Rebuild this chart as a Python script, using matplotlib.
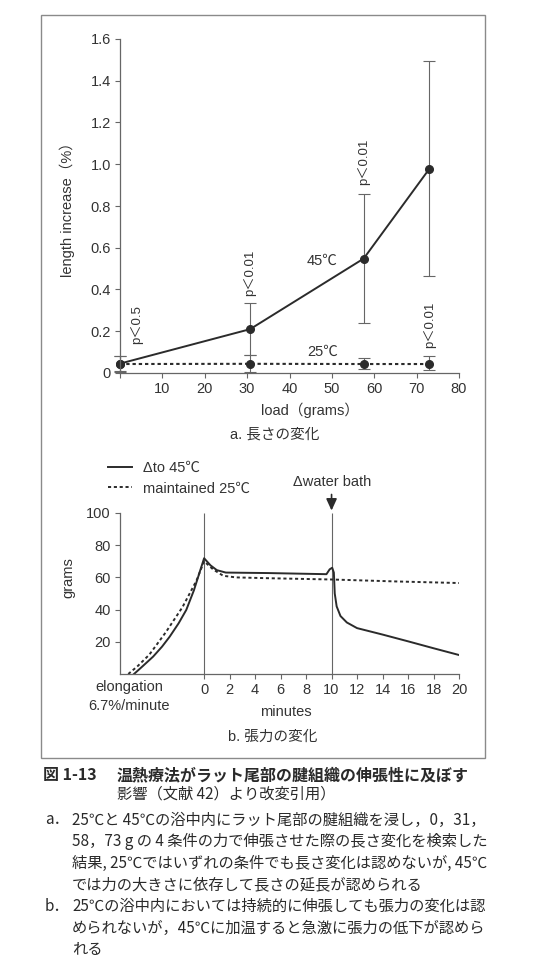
import matplotlib
matplotlib.use('Agg')
import matplotlib.pyplot as plt
from matplotlib.patches import Rectangle

plt.rcParams['font.family'] = ['Liberation Sans', 'Noto Sans CJK JP']

# --- data, panel a: length increase vs load ---
load = [0, 30.7, 57.5, 73.0]
len_45 = [0.045, 0.21, 0.548, 0.978]
err_45 = [0.037, 0.123, 0.31, 0.515]
len_25 = [0.043, 0.044, 0.043, 0.043]
err_25_lo = [0.04, 0.038, 0.024, 0.029]
err_25_hi = [0.038, 0.04, 0.03, 0.038]
p_labels = ['p＜0.5', 'p＜0.01', 'p＜0.01', 'p＜0.01']
p_x = [4.0, 30.7, 57.5, 73.0]
p_y = [0.14, 0.37, 0.90, 0.118]

# --- data, panel b: tension vs time ---
t_45 = [-5.5, -4.8, -4.0, -3.3, -2.7, -2.0, -1.4, -0.8, -0.3, 0, 0.5, 1.0, 1.7,
        5.0, 9.6, 9.85, 10.05, 10.18, 10.25, 10.4, 10.7, 11.2, 12.0, 14.0,
        16.0, 18.0, 20.0]
g_45 = [0, 5, 10.8, 17, 23.2, 31.5, 39.8, 52, 64.5, 71.9, 67.5, 64.5, 63,
        62.7, 62, 65, 66, 63, 50, 42, 36, 32, 28.5, 24.5,
        20.3, 16, 11.8]
t_25 = [-5.95, -5.2, -4.3, -3.0, -1.7, -0.6, 0, 0.7, 1.5, 2.5, 5.0, 10.0, 15.0, 20.0]
g_25 = [0, 5, 12, 26, 41.5, 58, 70, 65, 61, 60, 59.5, 58.7, 57.5, 56.5]

W, H = 548, 963
dark = '#2b2b2b'
grey = '#666666'
txt = '#333333'


def fx(x):
    return x / W


def fy(y):
    return 1 - y / H


fig = plt.figure(figsize=(W / 100, H / 100), dpi=100)
fig.patches.append(Rectangle((fx(41), fy(758)), fx(485) - fx(41), fy(15) - fy(758),
                             transform=fig.transFigure, fill=False,
                             edgecolor='#8a8a8a', lw=1.0))

# ---------------- panel a ----------------
ax1 = fig.add_axes([fx(120), fy(373), (459 - 120) / W, (373 - 39) / H])
ax1.set_xlim(0, 80)
ax1.set_ylim(0, 1.6)

e25 = ax1.errorbar(load, len_25, yerr=[err_25_lo, err_25_hi], fmt='o',
                   linestyle=(0, (1.6, 1.4)), color=dark, ms=5.5, lw=1.5,
                   elinewidth=0.8, capsize=4.5, capthick=0.8, ecolor=grey)
e45 = ax1.errorbar(load, len_45, yerr=err_45, fmt='-o', color=dark, ms=5.5,
                   lw=1.4, elinewidth=0.8, capsize=4.5, capthick=0.8, ecolor=grey)
for cont in (e25, e45):
    cont.lines[0].set_clip_on(False)
    for c in cont.lines[1]:
        c.set_clip_on(False)
    for c in cont.lines[2]:
        c.set_clip_on(False)

for lab, x, y in zip(p_labels, p_x, p_y):
    ax1.text(x, y, lab, rotation=90, ha='center', va='bottom', fontsize=9.5,
             color=txt)
ax1.text(47.8, 0.538, '45℃', ha='center', va='center', fontsize=10.5, color=txt)
ax1.text(47.8, 0.102, '25℃', ha='center', va='center', fontsize=10.5, color=txt)

ax1.set_xticks(range(0, 90, 10))
ax1.set_xticklabels([''] + [str(v) for v in range(10, 90, 10)])
ax1.set_yticks([0, 0.2, 0.4, 0.6, 0.8, 1.0, 1.2, 1.4, 1.6])
ax1.set_yticklabels(['0', '0.2', '0.4', '0.6', '0.8', '1.0', '1.2', '1.4', '1.6'])
ax1.set_ylabel('length increase（%）', fontsize=10.5, color=txt)
ax1.yaxis.set_label_coords(-0.132, 0.5)
ax1.set_xlabel('load（grams）', fontsize=10.5, color=txt)
ax1.xaxis.set_label_coords(0.56, -0.088)

# ---------------- panel b ----------------
ax2 = fig.add_axes([fx(120), fy(674), (459 - 120) / W, (674 - 513) / H])
ax2.set_xlim(-6.6, 20)
ax2.set_ylim(0, 100)
ax2.vlines([0, 10], 0, 100, color=grey, lw=0.8)
ax2.plot(t_45, g_45, color=dark, lw=1.4, label='Δto 45℃')
ax2.plot(t_25, g_25, color=dark, lw=1.4, linestyle=(0, (1.6, 1.4)),
         label='maintained 25℃')
ax2.set_xticks(range(0, 21, 2))
ax2.set_yticks([20, 40, 60, 80, 100])
ax2.set_ylabel('grams', fontsize=10.5, color=txt)
ax2.yaxis.set_label_coords(-0.132, 0.6)

ax2.legend(loc='upper left', bbox_to_anchor=(fx(108), fy(461)),
           bbox_transform=fig.transFigure, frameon=False, fontsize=10.5,
           handlelength=1.65, handletextpad=0.75, labelspacing=0.45,
           borderpad=0, borderaxespad=0, labelcolor=txt)

ax2.annotate('', xy=(10, 101.5), xytext=(10, 111.5),
             arrowprops=dict(arrowstyle='-|>,head_length=0.7,head_width=0.32',
                             color=dark, lw=1.2, shrinkA=0, shrinkB=0),
             annotation_clip=False)
ax2.text(10.05, 119.5, 'Δwater bath', ha='center', va='center', fontsize=10.5,
         color=txt)

for ax in (ax1, ax2):
    for s in ('top', 'right'):
        ax.spines[s].set_visible(False)
    for s in ('left', 'bottom'):
        ax.spines[s].set_color(grey)
        ax.spines[s].set_linewidth(0.9)
    ax.tick_params(direction='out', length=3.5, width=0.8, color=grey,
                   labelsize=10.5, labelcolor=txt, pad=3)

fig.text(fx(275), fy(435), 'a. 長さの変化', ha='center', va='center',
         fontsize=10.5, color=txt)
fig.text(fx(129), fy(687), 'elongation', ha='center', va='center',
         fontsize=10.5, color=txt)
fig.text(fx(129), fy(706), '6.7%/minute', ha='center', va='center',
         fontsize=10.5, color=txt)
fig.text(fx(286), fy(712), 'minutes', ha='center', va='center',
         fontsize=10.5, color=txt)
fig.text(fx(273), fy(737), 'b. 張力の変化', ha='center', va='center',
         fontsize=10.5, color=txt)

# ---------------- caption ----------------
cap = '#2a2a2a'
fig.text(fx(43), fy(775), '図 1-13', ha='left', va='center', fontsize=11.5,
         weight='bold', color=cap, family=['Noto Sans CJK JP'])
fig.text(fx(117), fy(775), '温熱療法がラット尾部の腱組織の伸張性に及ぼす',
         ha='left', va='center', fontsize=11.5, weight='bold', color=cap,
         family=['Noto Sans CJK JP'])
fig.text(fx(117), fy(794), '影響（文献 42）より改変引用）', ha='left', va='center',
         fontsize=11, color=cap, family=['Noto Sans CJK JP'])

body = [
    ('a．', '25℃と 45℃の浴中内にラット尾部の腱組織を浸し，0，31，'),
    ('', '58，73 g の 4 条件の力で伸張させた際の長さ変化を検索した'),
    ('', '結果, 25℃ではいずれの条件でも長さ変化は認めないが, 45℃'),
    ('', 'では力の大きさに依存して長さの延長が認められる'),
    ('b．', '25℃の浴中内においては持続的に伸張しても張力の変化は認'),
    ('', 'められないが，45℃に加温すると急激に張力の低下が認めら'),
    ('', 'れる'),
]
for i, (head, line) in enumerate(body):
    y = 820 + i * 21.6
    if head:
        fig.text(fx(45), fy(y), head, ha='left', va='center', fontsize=11,
                 color=cap, family=['Noto Sans CJK JP'])
    fig.text(fx(72), fy(y), line, ha='left', va='center', fontsize=11,
             color=cap, family=['Noto Sans CJK JP'])

fig.savefig('out.png', dpi=100)
